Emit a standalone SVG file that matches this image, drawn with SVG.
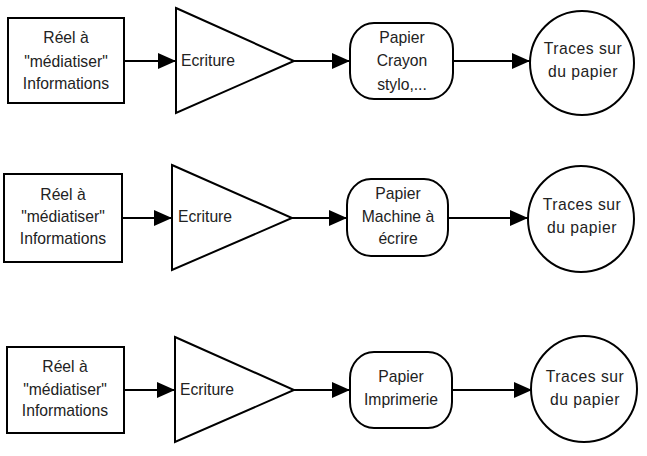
<svg xmlns="http://www.w3.org/2000/svg" width="647" height="456" viewBox="0 0 647 456">
<style>
.s{fill:#fff;stroke:#000;stroke-width:2}
.c{fill:none;stroke:#000;stroke-width:2}
text{font-family:"Liberation Sans",Arial,sans-serif;font-size:15.7px;fill:#222}
.m{text-anchor:middle}
.t{letter-spacing:0.5px}
</style>
<defs>
<marker id="ah" markerUnits="userSpaceOnUse" markerWidth="19" markerHeight="18" refX="18" refY="9" orient="auto">
<path d="M0,1 L18,9 L0,17 z" fill="#000"/>
</marker>
</defs>
<rect width="647" height="456" fill="#fff"/>
<g id="connectors">
<line class="c" x1="124" y1="61" x2="176" y2="61" marker-end="url(#ah)"/>
<line class="c" x1="294" y1="61" x2="350" y2="61" marker-end="url(#ah)"/>
<line class="c" x1="453" y1="61" x2="530" y2="61" marker-end="url(#ah)"/>
<line class="c" x1="122" y1="218" x2="172" y2="218" marker-end="url(#ah)"/>
<line class="c" x1="292" y1="218" x2="347" y2="218" marker-end="url(#ah)"/>
<line class="c" x1="448" y1="218" x2="528" y2="218" marker-end="url(#ah)"/>
<line class="c" x1="124" y1="390" x2="175" y2="390" marker-end="url(#ah)"/>
<line class="c" x1="294" y1="390" x2="350" y2="390" marker-end="url(#ah)"/>
<line class="c" x1="452" y1="390" x2="532" y2="390" marker-end="url(#ah)"/>
</g>
<g id="reel1">
<rect class="s" x="8" y="18" width="116" height="85"/>
<text class="m" x="66" y="43">Réel à</text>
<text class="m" x="66" y="67">"médiatiser"</text>
<text class="m" x="66" y="89">Informations</text>
</g>
<g id="ecriture1">
<polygon class="s" points="176,8 294,61 176,113"/>
<text x="181" y="66">Ecriture</text>
</g>
<g id="papier1">
<rect class="s" x="350" y="23" width="103" height="76" rx="24" ry="26"/>
<text class="m" x="402" y="43">Papier</text>
<text class="m" x="402" y="66">Crayon</text>
<text class="m" x="402" y="90">stylo,...</text>
</g>
<g id="traces1">
<circle class="s" cx="582" cy="63" r="52"/>
<text class="m t" x="583" y="54">Traces sur</text>
<text class="m t" x="583" y="77">du papier</text>
</g>
<g id="reel2">
<rect class="s" x="4" y="174" width="118" height="88"/>
<text class="m" x="63" y="200">Réel à</text>
<text class="m" x="63" y="222">"médiatiser"</text>
<text class="m" x="63" y="244">Informations</text>
</g>
<g id="ecriture2">
<polygon class="s" points="172,165 292,218 172,270"/>
<text x="178" y="222">Ecriture</text>
</g>
<g id="papier2">
<rect class="s" x="347" y="179" width="101" height="77" rx="24" ry="26"/>
<text class="m" x="398" y="199">Papier</text>
<text class="m" x="398" y="222">Machine à</text>
<text class="m" x="398" y="244">écrire</text>
</g>
<g id="traces2">
<circle class="s" cx="581" cy="219" r="53"/>
<text class="m t" x="582" y="210">Traces sur</text>
<text class="m t" x="582" y="233">du papier</text>
</g>
<g id="reel3">
<rect class="s" x="7" y="347" width="117" height="86"/>
<text class="m" x="65" y="372">Réel à</text>
<text class="m" x="65" y="395">"médiatiser"</text>
<text class="m" x="65" y="416">Informations</text>
</g>
<g id="ecriture3">
<polygon class="s" points="175,337 294,390 175,442"/>
<text x="180" y="395">Ecriture</text>
</g>
<g id="papier3">
<rect class="s" x="350" y="352" width="102" height="76" rx="24" ry="26"/>
<text class="m" x="401" y="382">Papier</text>
<text class="m" x="401" y="405">Imprimerie</text>
</g>
<g id="traces3">
<circle class="s" cx="584" cy="389" r="53"/>
<text class="m t" x="585" y="382">Traces sur</text>
<text class="m t" x="585" y="405">du papier</text>
</g>
</svg>
